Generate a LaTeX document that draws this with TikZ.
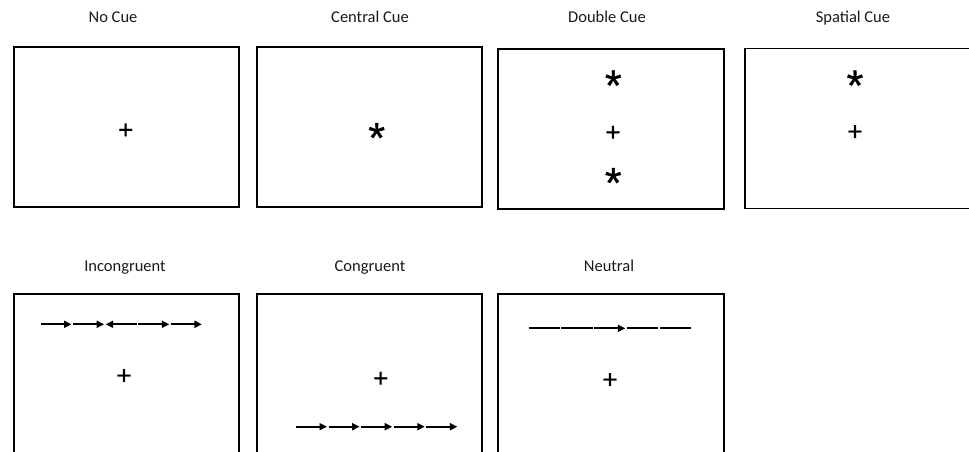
\documentclass[tikz,border=0pt]{standalone}
\usepackage{fontspec}
\setmainfont{Carlito}
\newfontfamily\symfont[FakeBold=0.8]{Liberation Sans}
\usetikzlibrary{arrows.meta}

\begin{document}
\begin{tikzpicture}[x=1pt,y=-1pt,
  panel/.style={draw=black, line width=1.6pt, minimum width=225pt, minimum height=160pt, inner sep=0pt},
  caption/.style={font=\fontsize{16.5}{18}\selectfont, text=black!90, anchor=base, inner sep=0pt},
  fixcross/.style={font=\symfont\fontsize{26}{27}\selectfont, anchor=base, inner sep=0pt},
  cuestar/.style={font=\symfont\fontsize{43}{44}\selectfont, anchor=base, inner sep=0pt},
  flank/.style={line width=2pt, -{Triangle[length=7.5pt,width=7pt]}},
  flankbar/.style={line width=2pt},
]
\useasboundingbox (0,0) rectangle (969,451);

% captions
\node[caption] (tNo)   at (113,22.5) {No Cue};
\node[caption] (tCen)  at (370,22.5) {Central Cue};
\node[caption] (tDbl)  at (607,22.5) {Double Cue};
\node[caption] (tSpa)  at (853,22.5) {Spatial Cue};
\node[caption] (tInc)  at (125,271.5) {Incongruent};
\node[caption] (tCon)  at (370,271.5) {Congruent};
\node[caption] (tNeu)  at (609,271.5) {Neutral};

% screens
\node[panel] (pNo)  at (126.5,127) {};
\node[panel] (pCen) at (369.5,127) {};
\node[panel, minimum width=226pt] (pDbl) at (611,128.8) {};
\node[panel, minimum width=226pt] (pSpa) at (858,128.3) {};
\node[panel] (pInc) at (126.5,374) {};
\node[panel] (pCon) at (369.5,374) {};
\node[panel, minimum width=226pt] (pNeu) at (611,374) {};

% fixation crosses (baseline placed below the glyph centre)
\node[fixcross] (fNo)  at (125.7,138.5) {+};
\node[fixcross] (fDbl) at (613,140.9) {+};
\node[fixcross] (fSpa) at (855,140.2) {+};
\node[fixcross] (fInc) at (124,384.2) {+};
\node[fixcross] (fCon) at (380.7,386.9) {+};
\node[fixcross] (fNeu) at (610,388.2) {+};

% cue asterisks
\node[cuestar] (sCen)  at (376.7,152.6) {*};
\node[cuestar] (sDblA) at (613.3,100.2) {*};
\node[cuestar] (sDblB) at (613.3,197.6) {*};
\node[cuestar] (sSpa)  at (855,100.2) {*};

% flanker rows
\foreach \k in {0,...,4} {
  \coordinate (ia\k) at ({40.5+32.6*\k},324.3);
  \coordinate (ib\k) at ({71.5+32.6*\k},324.3);
  \coordinate (ca\k) at ({296+32.6*\k},426.7);
  \coordinate (cb\k) at ({327+32.6*\k},426.7);
  \coordinate (na\k) at ({528.7+32.7*\k},328.3);
  \coordinate (nb\k) at ({559.9+32.7*\k},328.3);
}
% incongruent: middle arrow reversed
\draw[flank] (ia0) -- (ib0);
\draw[flank] (ia1) -- (ib1);
\draw[flank] (ib2) -- (ia2);
\draw[flank] (ia3) -- (ib3);
\draw[flank] (ia4) -- (ib4);
% congruent
\foreach \k in {0,...,4} { \draw[flank] (ca\k) -- (cb\k); }
% neutral: plain dashes around a central arrow
\draw[flankbar] (na0) -- (nb0);
\draw[flankbar] (na1) -- (nb1);
\draw[flank]    (na2) -- (nb2);
\draw[flankbar] (na3) -- (nb3);
\draw[flankbar] (na4) -- (nb4);
\end{tikzpicture}
\end{document}
